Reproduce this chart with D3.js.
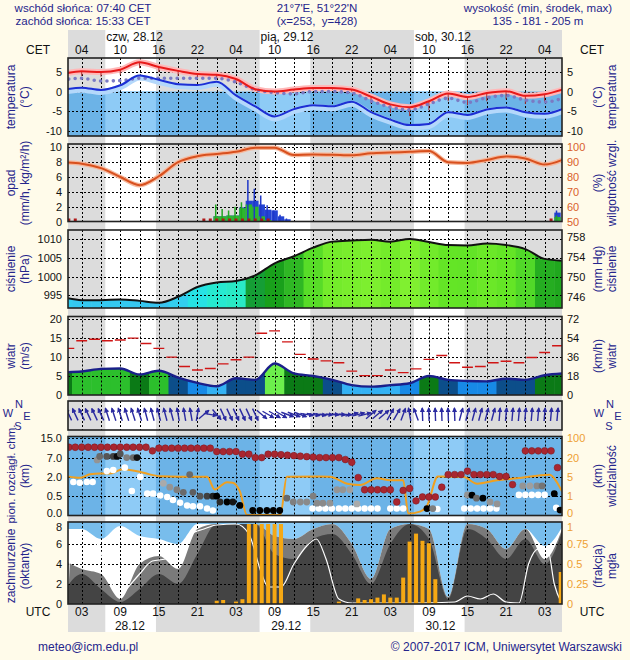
<!DOCTYPE html>
<html><head><meta charset="utf-8">
<script src="https://cdn.jsdelivr.net/npm/d3@7/dist/d3.min.js"></script>
<style>
html,body{margin:0;padding:0;background:#fffbea;}
svg{display:block;}
text{font-family:"Liberation Sans",Arial,Helvetica,sans-serif;}
</style></head><body>
<svg id="chart" width="630" height="660"></svg>
<script>
// ---------------- DATA ----------------
const sunriseUTC = [6.67, 30.67, 54.67];
const sunsetUTC  = [14.55, 38.55, 62.55];
const labelHours = [3,9,15,21,27,33,39,45,51,57,63,69,75];
const cetLabels  = ["04","10","16","22","04","10","16","22","04","10","16","22","04"];
const utcLabels  = ["03","09","15","21","03","09","15","21","03","09","15","21","03"];
const dayNamesTop = ["czw, 28.12","pią, 29.12","sob, 30.12"];
const datesBottom = ["28.12","29.12","30.12"];
const dateBottomHours = [10.5, 34.8, 58.8];

const hours3 = [0,3,6,9,12,15,18,21,24,27,30,33,36,39,42,45,48,51,54,57,60,63,66,69,72,75,78];
const temperature = [4.5,5.2,5.0,5.6,7.5,6.3,5.3,4.5,4.3,3.2,0.6,0.0,0.5,0.9,0.9,0.5,-1.3,-3.3,-4.0,-2.5,-0.5,-1.4,-0.4,0.1,-1.1,-0.7,0.6];
const tempLow     = [3.3,4.0,3.8,4.3,6.0,5.0,4.0,3.3,3.2,2.2,0.2,-0.3,0.2,0.5,0.5,0.0,-3.0,-5.5,-6.3,-4.8,-2.5,-3.5,-2.5,-2.0,-3.2,-2.8,-1.5];
const dewPoint    = [0.4,1.0,0.4,1.6,4.1,3.0,1.9,1.7,2.5,-1.0,-3.8,-6.4,-4.5,-3.5,-3.8,-2.6,-5.3,-7.2,-8.6,-8.3,-5.3,-6.0,-4.6,-4.1,-5.3,-5.7,-4.3];
const perceived   = [3.0,3.4,2.7,2.8,3.4,3.4,3.4,3.4,3.4,2.4,0.5,-0.3,-0.6,0.0,0.0,-0.4,-2.4,-4.0,-4.7,-3.2,-1.7,-2.8,-1.6,-1.0,-2.2,-2.7,-1.6];
const humidity    = [90,89,86,80,74.5,80.5,90,94,95.5,97,99.7,99.8,94.8,95.2,95,94.6,96,96.5,97,97.5,90,89.5,91.5,93.8,92.5,88.4,92];
const pressure    = [994.5,993.7,993.7,993.9,993.5,993.0,994.6,997.2,998.4,998.8,1000.3,1003.5,1005.4,1007.7,1009.3,1009.6,1009.8,1009.3,1010.0,1009.2,1008.4,1008.3,1008.8,1008.4,1007.3,1004.7,1004.2];
const windSpeed   = [6.0,6.2,6.9,7.0,5.4,6.4,4.6,3.2,2.3,4.4,4.0,8.3,5.7,5.0,4.0,2.6,2.2,2.6,3.1,5.0,4.0,3.7,3.6,4.3,4.0,5.2,5.7];

const gustHours = [1,3,5,7,9,11,13,15,17,19,21,23,25,27,29,31,33,35,37,39,41,43,45,47,49,51,53,55,57,59,61,63,65,67,69,71,73,75,77];
const gusts     = [12.3,14.3,14.7,14.3,14.5,15.0,13.6,12.3,10.0,7.5,6.6,7.0,8.2,9.3,10.0,16.3,16.9,14.0,10.7,9.5,9.0,8.5,6.3,5.1,5.1,6.6,5.9,6.9,9.4,10.4,8.5,7.3,7.5,8.5,8.9,8.5,9.9,11.2,13.0];

const precipHours = [24,25,26,27,28,29,30,31,32,33,34,35,77];
const rain        = [0.7,0.7,0.8,0.8,1.8,2.3,2.0,0.7,0.2,0,0,0,0.6];
const precipTotal = [0.7,0.7,0.8,0.8,1.9,2.8,2.8,2.3,1.6,1.5,0.7,0.3,1.2];
const rainMax     = [2.3,1.7,1.5,2.0,2.6,0,0,0,0,0,0,0,0.8];
const snowMax     = [0,0,0,0,0,5.6,4.4,3.5,2.2,1.5,0.9,0.4,1.5];
const precipFlagHours = [1,2,22,23,24,25,26,27,28,29,30,31,32,76];

const dirHours = [1,2,3,4,5,6,7,8,9,10,11,12,13,14,15,16,17,18,19,20,21,22,23,24,25,26,27,28,29,30,31,32,33,34,35,36,37,38,39,40,41,42,43,44,45,46,47,48,49,50,51,52,53,54,55,56,57,58,59,60,61,62,63,64,65,66,67,68,69,70,71,72,73,74,75,76,77];
const windFrom = [155,155,155,155,155,155,162,162,162,162,162,162,165,165,165,165,165,170,170,170,190,230,280,320,335,335,335,335,335,335,310,300,300,300,290,290,290,280,280,280,272,272,272,272,255,255,255,230,230,230,210,210,200,170,160,178,178,178,178,178,178,195,195,195,195,195,195,185,185,185,185,185,185,185,185,185,185];

const visHours   = [0.9,2.7,4.3,5.8,7.4,9.4,12,13.2,15.2,18.3,22.5,23.7,25.6,26.5,27.6,28.7,33.9,34.9,40.1,41.6,44.3,46.3,48.9,51,53,53.8,55.6,56.7,58.4,62.3,64.5,67.6,70.7,75.8,76.9,77.7];
const visibility = [5.4,4.8,7.0,7.6,7.6,11,9.0,7.4,5.5,5.2,5.2,2.4,3.9,3.8,2.0,0.03,0.03,5.2,5.3,5.2,3.6,3.3,4.7,4.3,4.3,0.1,0.2,0.5,5.4,5.1,3.6,4.3,4.7,6.6,3.9,2.0];

const topHours = [1,2,3,4,5,6,7,8,9,10,11,12,13,14,15,16,17,18,19,20,21,22,23,24,25,26,27,28,29,30,31,32,33,34,35,36,37,38,39,40,41,42,43,44,45,46,47,48,49,50,51,52,53,54,55,56,57,58,59,60,61,62,63,64,65,66,67,68,69,70,72,73,74,75,76,77];
const cloudTop = [11.3,11.3,11.3,11.3,11.3,11.3,11.3,11.3,11.3,11.3,11.3,11.3,11.3,9.8,10.9,10.9,10.9,10.9,10.9,10.9,10.9,10.9,10.9,9.5,9.5,9.5,9.5,8.4,8.4,7.0,7.0,8.4,8.4,8.2,8.0,7.8,7.6,7.4,7.2,7.0,7.0,7.0,7.0,6.5,5.8,1.95,1.0,1.0,1.0,1.0,1.0,0.35,0.95,1.1,0.38,0.48,0.48,0.48,1.2,2.6,2.6,2.6,3.5,2.6,2.6,2.6,2.6,2.1,2.1,1.4,9.8,9.8,9.8,9.8,9.8,4.4];

const grayHours = [5.4,5.8,6.9,7.9,8.5,9,10,11,11.6,15.7,16.7,17.8,18.8,19.8,20.3,21.4,22.5,23.4,24,24.5,25.6,26.5,27.6,29.6,30.7,31.8,32.8,33.8,34.9,35.9,37,38,39,39.6,40.5,41.6,42.7,43.6,44.7,45.8,56.7,57.6,63,63.7,64.4,65.4,66.5,67.6,71.6,72.7,73.8,74.6,76.5,77.4];
const grayBase  = [6.4,7.5,7.5,7.5,7.5,8.5,7.0,7.0,7.0,1.5,1.2,1.0,0.8,2.6,0.8,0.5,0.5,0.5,0.5,0.35,0.35,0.35,0.26,0.13,0.13,0.13,0.13,0.13,0.45,0.35,0.35,0.35,0.5,0.32,0.32,0.32,1.0,1.0,1.0,0.3,0.18,0.18,0.6,0.58,0.45,0.45,0.35,0.3,1.3,1.3,1.3,1.3,0.7,0.14];
const grayCover = [0.3,0.5,0.6,0.7,0.95,0.6,0.4,0.5,0.9,0.2,0.3,0.4,0.5,0.5,0.55,0.6,0.7,0.85,1.0,0.8,1.0,0.9,1.0,1.0,1.0,1.0,1.0,1.0,0.5,0.4,0.35,0.35,0.4,0.35,0.35,0.3,0.3,0.3,0.25,0.2,1.0,0.4,0.3,1.0,0.5,1.0,0.3,0.3,0.3,0.25,0.35,0.45,1.0,1.0];

const whiteHours = [1.7,2.7,3.8,4.7,6.9,7.9,9.7,10.8,12.1,13.2,14.1,15.2,16.3,17.2,18.3,19.4,20.3,21.4,22.5,23.4,38.9,39.9,40.9,41.9,43,44,45,46,47,48,49,51,52,53,58.3,62.5,63.5,64.5,65.5,66.5,67.5,71,72,73,74,75,76.8];
const whiteBase  = [1.6,1.55,1.6,1.6,3.5,3.8,4.4,0.9,2.0,0.7,0.7,0.55,0.48,0.4,0.33,0.26,0.24,0.24,0.18,0.13,0.18,0.18,0.18,0.18,0.18,0.18,0.18,0.18,0.18,0.18,0.18,0.18,0.18,0.18,0.17,0.18,0.18,0.18,0.18,0.18,0.18,0.6,0.6,0.6,0.6,0.6,0.2];

const cloudHigh = [7.5,7.5,6.5,7.8,6.8,6.5,6.0,8,8,8,8,6.8,6.5,7.5,8,6,2.5,7.5,8,7.5,0.7,8,7.5,5.5,7.5,5.8,8];
const cloudMid  = [4.5,3.5,3.0,0.5,4.0,4.8,3.5,7.5,8,8,8,6.8,6.5,7.5,8,6,2.5,7.5,8,7.5,0.7,8,7.5,5.5,7.5,4.5,8];
const cloudLow  = [1.0,3.0,1.5,0.2,1.5,3.0,2.0,5.0,8,8,8,5.0,4.5,6.5,7.0,5.0,2.0,6.0,8,6.5,0.5,7.5,6.5,4.5,6.5,4.0,7.8];

const lineHours = [0.9,1.5,3,5,7,9,10,12,14,16,18,20,22,24,27,29,31,32,34,36,38,39.5,41,43,45,50,55,61,63,65,67,69,71,72.5,74,75.5,76.5,77.7];
const cloudLine = [2.0,7.2,7.0,6.4,3.5,0.8,1.5,3.0,4.3,4.5,5.5,7.0,7.5,7.9,8.0,7.0,3.0,1.7,1.7,4.0,5.8,6.5,4.5,0.5,0.1,0.1,0.1,0.2,0.8,0.5,1.0,0.2,0.1,4.0,5.5,5.4,2.0,0.0];

const fogHours = [24,25,27,28,29,30,31,32,33,34,43,46,47,48,49,50,51,52,53,54,55,56,57,58,77.5];
const fog      = [0.04,0.05,0.03,0.06,1,1,1,1,1,1,0.03,0.07,0.05,0.06,0.08,0.12,0.08,0.08,0.33,0.78,0.88,0.79,0.76,0.31,0.4];

// ---------------- LAYOUT ----------------
const W = 630, H = 660, X0 = 68, X1 = 562;
const NAVY = "#25258c", NIGHT = "#dcdcdc", DAY = "#ffffff";
const BLUE_N = "#6cb3e7", BLUE_D = "#8ecbf6";
const ORANGE = "#eea032", HUMC = "#d9602a";
const x = d3.scaleLinear().domain([0.87, 77.7]).range([X0, X1]);
const gridHours = d3.range(3, 76, 3);
const svg = d3.select("#chart");
svg.append("rect").attr("width", W).attr("height", H).attr("fill", "#fffbea");
const defs = svg.append("defs");

function bands(g, y0, y1, cn, cd) {
  g.append("rect").attr("x", X0).attr("y", y0).attr("width", X1 - X0).attr("height", y1 - y0).attr("fill", cn);
  g.selectAll(null).data(sunriseUTC).enter().append("rect")
    .attr("x", d => Math.max(X0, x(d))).attr("y", y0)
    .attr("width", (d, i) => Math.min(X1, x(sunsetUTC[i])) - Math.max(X0, x(d)))
    .attr("height", y1 - y0).attr("fill", cd);
}
function panel(id, y0, y1) {
  defs.append("clipPath").attr("id", "clip-" + id).append("rect")
    .attr("x", X0).attr("y", y0).attr("width", X1 - X0).attr("height", y1 - y0);
  return svg.append("g").attr("clip-path", `url(#clip-${id})`);
}
function frame(y0, y1) {
  svg.append("rect").attr("x", X0).attr("y", y0).attr("width", X1 - X0).attr("height", y1 - y0)
    .attr("fill", "none").attr("stroke", "#222").attr("stroke-width", 1.6);
}
function grid(g, y0, y1, ys) {
  g.selectAll(null).data(gridHours).enter().append("line")
    .attr("x1", d => Math.round(x(d)) + 0.5).attr("x2", d => Math.round(x(d)) + 0.5)
    .attr("y1", y0).attr("y2", y1).attr("stroke", "#000").attr("stroke-width", 1).attr("stroke-dasharray", "2,2");
  g.selectAll(null).data(ys).enter().append("line")
    .attr("x1", X0).attr("x2", X1).attr("y1", d => Math.round(d) + 0.5).attr("y2", d => Math.round(d) + 0.5)
    .attr("stroke", "#000").attr("stroke-width", 1).attr("stroke-dasharray", "2,2");
}
function axis(side, scale, vals, fmt, color, nudge) {
  const ax = (side === "left" ? d3.axisLeft(scale) : d3.axisRight(scale))
    .tickValues(vals).tickSize(0).tickPadding(side === "left" ? 6 : 5).tickFormat(fmt || (d => String(d)));
  const g = svg.append("g").attr("transform", `translate(${side === "left" ? X0 : X1},0)`).call(ax);
  g.select(".domain").remove();
  g.selectAll("text").attr("font-size", 11).attr("fill", color || "#111")
    .attr("font-family", '"Liberation Sans",Arial,sans-serif');
  if (nudge) g.selectAll(".tick text").attr("transform", d => `translate(0,${nudge(d)})`);
  return g;
}
function vtitle(xc, yc, txt, color, size) {
  svg.append("text").attr("transform", `translate(${xc},${yc}) rotate(-90)`)
    .attr("text-anchor", "middle").attr("dominant-baseline", "central")
    .attr("font-size", size || 12).attr("fill", color || NAVY).text(txt);
}
function txt(xp, yp, s, anchor, size, color) {
  return svg.append("text").attr("x", xp).attr("y", yp).attr("text-anchor", anchor || "start")
    .attr("font-size", size || 12).attr("fill", color || NAVY).style("white-space", "pre").text(s);
}
function stripEdges(hs) {
  return hs.map((h, i) => [i === 0 ? h - 1.5 : (hs[i - 1] + h) / 2, i === hs.length - 1 ? h + 1.5 : (h + hs[i + 1]) / 2]);
}

// ---------- header & bands ----------
bands(svg.append("g"), 30, 632, NIGHT, DAY);
txt(83, 11.5, "wschód słońca: 07:40 CET", "middle", 11.5);
txt(83, 25, "zachód słońca: 15:33 CET", "middle", 11.5);
txt(317, 11.5, "21°7'E, 51°22'N", "middle", 11.5);
txt(317, 25, "(x=253,  y=428)", "middle", 11.5);
txt(538, 11.5, "wysokość (min, środek, max)", "middle", 11.5);
txt(538, 25, "135 - 181 - 205 m", "middle", 11.5);
sunriseUTC.forEach((s, i) => txt(x(s) + 1, 41, dayNamesTop[i], "start", 12, "#111"));
labelHours.forEach((h, i) => txt(x(h), 53.5, cetLabels[i], "middle", 12, "#111"));
txt(38, 53.5, "CET", "middle", 12, "#111");
txt(592, 53.5, "CET", "middle", 12, "#111");
labelHours.forEach((h, i) => txt(x(h), 616, utcLabels[i], "middle", 12, "#111"));
dateBottomHours.forEach((h, i) => txt(x(h), 630, datesBottom[i], "middle", 12, "#111"));
txt(38, 616, "UTC", "middle", 12, "#111");
txt(592, 616, "UTC", "middle", 12, "#111");
txt(38, 651, "meteo@icm.edu.pl", "start", 12);
txt(622, 651, "© 2007-2017 ICM, Uniwersytet Warszawski", "end", 12);

// ---------- 1. temperature ----------
{
  const y0 = 58, y1 = 136;
  const y = d3.scaleLinear().domain([-11.4, 8.6]).range([y1, y0]);
  const g = panel("t", y0, y1);
  bands(g, y0, y1, NIGHT, DAY);
  bands(g, y(0), y1, BLUE_N, BLUE_D);
  grid(g, y0, y1, [5, 0, -5, -10].map(y));
  const line = d3.line().x((d, i) => x(hours3[i])).y(d => y(d)).curve(d3.curveMonotoneX);
  g.append("path").attr("d", line(dewPoint)).attr("fill", "none").attr("stroke", "#b4d8fb").attr("stroke-width", 6).attr("transform", "translate(0,2)");
  g.append("path").attr("d", line(temperature)).attr("fill", "none").attr("stroke", "#ffb8b8").attr("stroke-width", 6);
  g.selectAll(null).data(hours3).enter().append("line")
    .attr("x1", h => x(h)).attr("x2", h => x(h))
    .attr("y1", (h, i) => y(temperature[i])).attr("y2", (h, i) => y(tempLow[i]))
    .attr("stroke", "#a83030").attr("stroke-width", 1);
  g.append("path").attr("d", line(perceived)).attr("fill", "none").attr("stroke", "#7a7ac4")
    .attr("stroke-width", 3.6).attr("stroke-linecap", "round").attr("stroke-dasharray", "0,6.4");
  g.append("path").attr("d", line(dewPoint)).attr("fill", "none").attr("stroke", "#1d2fd4").attr("stroke-width", 2);
  g.append("path").attr("d", line(temperature)).attr("fill", "none").attr("stroke", "#e81a1a").attr("stroke-width", 2);
  frame(y0, y1);
  axis("left", y, [5, 0, -5, -10]);
  axis("right", y, [5, 0, -5, -10]);
  vtitle(11, 97, "temperatura"); vtitle(25, 97, "(°C)");
  vtitle(598, 97, "(°C)"); vtitle(612, 97, "temperatura");
}

// ---------- 2. precipitation / humidity ----------
{
  const y0 = 144, y1 = 221.5;
  const y = d3.scaleLinear().domain([0, 10.45]).range([y1, y0]);
  const yh = d3.scaleLinear().domain([50, 102.25]).range([y1, y0]);
  const g = panel("p", y0, y1);
  bands(g, y0, y1, NIGHT, DAY);
  grid(g, y0, y1, [2, 4, 6, 8, 10].map(y));
  const line = d3.line().x((d, i) => x(hours3[i])).y(d => yh(d)).curve(d3.curveMonotoneX);
  g.append("path").attr("d", line(humidity)).attr("fill", "none").attr("stroke", "#f6b89c").attr("stroke-width", 4.5);
  g.append("path").attr("d", line(humidity)).attr("fill", "none").attr("stroke", "#d8501e").attr("stroke-width", 2);
  const bw = x(1) - x(0);
  g.selectAll(null).data(precipHours).enter().append("rect")
    .attr("x", h => x(h - 0.5)).attr("width", bw).attr("y", (h, i) => y(precipTotal[i])).attr("height", (h, i) => y1 - y(precipTotal[i]))
    .attr("fill", "#2444d4");
  g.selectAll(null).data(precipHours).enter().append("rect")
    .attr("x", h => x(h - 0.5)).attr("width", bw).attr("y", (h, i) => y(rain[i])).attr("height", (h, i) => y1 - y(rain[i]))
    .attr("fill", "#2db82d");
  g.selectAll(null).data(precipHours).enter().append("line")
    .attr("x1", h => x(h) - 1).attr("x2", h => x(h) - 1).attr("y1", y1).attr("y2", (h, i) => y(snowMax[i]))
    .attr("stroke", "#2038c8").attr("stroke-width", 1.5);
  g.selectAll(null).data(precipHours).enter().append("line")
    .attr("x1", h => x(h) - 1).attr("x2", h => x(h) - 1).attr("y1", y1).attr("y2", (h, i) => y(rainMax[i]))
    .attr("stroke", "#22a822").attr("stroke-width", 1.5);
  g.selectAll(null).data(precipFlagHours).enter().append("rect")
    .attr("x", h => x(h) - 1.5).attr("y", y1 - 3).attr("width", 3).attr("height", 3).attr("fill", "#b01818");
  frame(y0, y1);
  axis("left", y, [0, 2, 4, 6, 8, 10]);
  axis("right", yh, [50, 60, 70, 80, 90, 100], null, HUMC);
  vtitle(11, 183, "opad"); vtitle(25, 183, "(mm/h, kg/m²/h)");
  vtitle(598, 183, "(%)"); vtitle(612, 183, "wilgotność wzgl.");
}

// ---------- 3. pressure ----------
{
  const y0 = 230, y1 = 308;
  const y = d3.scaleLinear().domain([991.6, 1012.4]).range([y1, y0]);
  const ymm = d3.scaleLinear().domain([991.6 * 0.750062, 1012.4 * 0.750062]).range([y1, y0]);
  const g = panel("pr", y0, y1);
  bands(g, y0, y1, NIGHT, DAY);
  const color = d3.scaleLinear()
    .domain([993, 996, 998, 999.5, 1000.5, 1003, 1005, 1007, 1008.5, 1010])
    .range(["#38c4f0", "#2cd6f0", "#24eadc", "#30e8b0", "#0e8c16", "#149a18", "#28b022", "#4cd42a", "#66e626", "#80f030"]);
  const area = d3.area().x((d, i) => x(hours3[i])).y0(y1).y1(d => y(d)).curve(d3.curveMonotoneX);
  defs.append("clipPath").attr("id", "presfill").append("path").attr("d", area(pressure));
  const edges = stripEdges(hours3);
  g.append("g").attr("clip-path", "url(#presfill)").selectAll("rect").data(pressure).enter().append("rect")
    .attr("x", (d, i) => x(edges[i][0])).attr("width", (d, i) => x(edges[i][1]) - x(edges[i][0]) + 0.5)
    .attr("y", y0).attr("height", y1 - y0).attr("fill", d => color(d));
  grid(g, y0, y1, [995, 1000, 1005, 1010].map(y));
  const line = d3.line().x((d, i) => x(hours3[i])).y(d => y(d)).curve(d3.curveMonotoneX);
  g.append("path").attr("d", line(pressure)).attr("fill", "none").attr("stroke", "#111").attr("stroke-width", 2);
  frame(y0, y1);
  axis("left", y, [995, 1000, 1005, 1010]);
  axis("right", ymm, [746, 750, 754, 758]);
  vtitle(11, 269, "ciśnienie"); vtitle(25, 269, "(hPa)");
  vtitle(598, 269, "(mm Hg)"); vtitle(612, 269, "ciśnienie");
}

// ---------- 4. wind ----------
{
  const y0 = 316.5, y1 = 395;
  const y = d3.scaleLinear().domain([0, 20.7]).range([y1, y0]);
  const ykm = d3.scaleLinear().domain([0, 20.7 * 3.6]).range([y1, y0]);
  const g = panel("w", y0, y1);
  bands(g, y0, y1, NIGHT, DAY);
  const color = d3.scaleThreshold().domain([2.7, 3.9, 5.0, 6.15, 7.5])
    .range(["#34b2f4", "#1789e6", "#0c4e8a", "#0b7a16", "#2cbf2c", "#6cef4c"]);
  const area = d3.area().x((d, i) => x(hours3[i])).y0(y1).y1(d => y(d)).curve(d3.curveMonotoneX);
  defs.append("clipPath").attr("id", "windfill").append("path").attr("d", area(windSpeed));
  const edges = stripEdges(hours3);
  g.append("g").attr("clip-path", "url(#windfill)").selectAll("rect").data(windSpeed).enter().append("rect")
    .attr("x", (d, i) => x(edges[i][0])).attr("width", (d, i) => x(edges[i][1]) - x(edges[i][0]) + 0.5)
    .attr("y", y0).attr("height", y1 - y0).attr("fill", d => color(d));
  grid(g, y0, y1, [5, 10, 15, 20].map(y));
  g.selectAll(null).data(gustHours).enter().append("line")
    .attr("x1", h => x(h - 1) + 1).attr("x2", h => x(h + 1) - 1)
    .attr("y1", (h, i) => y(gusts[i])).attr("y2", (h, i) => y(gusts[i]))
    .attr("stroke", "#d01515").attr("stroke-width", 1.4);
  const line = d3.line().x((d, i) => x(hours3[i])).y(d => y(d)).curve(d3.curveMonotoneX);
  g.append("path").attr("d", line(windSpeed)).attr("fill", "none").attr("stroke", "#1a1f8a").attr("stroke-width", 2.4);
  frame(y0, y1);
  axis("left", y, [0, 5, 10, 15, 20]);
  axis("right", ykm, [0, 18, 36, 54, 72]);
  vtitle(11, 356, "wiatr"); vtitle(25, 356, "(m/s)");
  vtitle(598, 356, "(km/h)"); vtitle(612, 356, "wiatr");
}

// ---------- 5. wind direction ----------
{
  const y0 = 401, y1 = 430, yc = 414.5, L = 13;
  const g = panel("d", y0, y1);
  bands(g, y0, y1, NIGHT, DAY);
  grid(g, y0, y1, []);
  defs.append("marker").attr("id", "ah").attr("viewBox", "0 0 10 10").attr("refX", 8).attr("refY", 5)
    .attr("markerWidth", 3.6).attr("markerHeight", 3.6).attr("orient", "auto")
    .append("path").attr("d", "M0,0L10,5L0,10z").attr("fill", "#2a2aa0");
  g.selectAll(null).data(dirHours).enter().append("line")
    .each(function (h, i) {
      const a = (windFrom[i] + 180) * Math.PI / 180;
      const dx = Math.sin(a) * L / 2, dy = -Math.cos(a) * L / 2, cx = x(h);
      d3.select(this).attr("x1", cx - dx).attr("y1", yc - dy).attr("x2", cx + dx).attr("y2", yc + dy);
    })
    .attr("stroke", "#2a2aa0").attr("stroke-width", 1.4).attr("marker-end", "url(#ah)");
  frame(y0, y1);
  [0, 591].forEach(bx => {
    txt(bx + 19, 408, "N", "middle", 11); txt(bx + 8, 417, "W", "middle", 11);
    txt(bx + 27, 420, "E", "middle", 11); txt(bx + 18, 430, "S", "middle", 11);
  });
}

// ---------- 6. cloud base / visibility ----------
{
  const y0 = 436.5, y1 = 515.5;
  const y = d3.scaleLinear().domain([0, 0.5, 2, 7, 15]).range([515.5, 496.2, 476.9, 457.6, 438.3]);
  const yv = d3.scaleLinear().domain([0, 1, 5, 20, 100]).range([515.5, 496.2, 476.9, 457.6, 438.3]);
  const g = panel("b", y0, y1);
  bands(g, y0, y1, BLUE_N, BLUE_D);
  grid(g, y0, y1, [0.5, 2, 7, 15].map(y));
  const line = d3.line().x((d, i) => x(visHours[i])).y(d => yv(d)).curve(d3.curveMonotoneX);
  g.append("path").attr("d", line(visibility)).attr("fill", "none").attr("stroke", "#f0a020").attr("stroke-width", 2);
  g.selectAll(null).data(whiteHours).enter().append("circle")
    .attr("cx", h => x(h)).attr("cy", (h, i) => y(whiteBase[i])).attr("r", 3.3).attr("fill", "#ffffff");
  const shade = d3.interpolateRgb("#d4d4d4", "#000000");
  g.selectAll(null).data(grayHours).enter().append("circle")
    .attr("cx", h => x(h)).attr("cy", (h, i) => y(grayBase[i])).attr("r", 3.4).attr("fill", (h, i) => shade(grayCover[i]));
  g.selectAll(null).data(topHours).enter().append("circle")
    .attr("cx", h => x(h)).attr("cy", (h, i) => y(cloudTop[i])).attr("r", 3.4).attr("fill", "#a82630").attr("stroke", "#7a1a20").attr("stroke-width", 0.5);
  frame(y0, y1);
  axis("left", y, [0, 0.5, 2, 7, 15], d3.format(".1f"), null, d => d === 0 ? -2.5 : 0);
  axis("right", yv, [0, 1, 5, 20, 100], null, ORANGE, d => d === 0 ? -2.5 : 0);
  vtitle(11, 474, "pion. rozciągł. chm.", NAVY, 11.5); vtitle(25, 476, "(km)");
  vtitle(598, 476, "(km)"); vtitle(612, 476, "widzialność");
}

// ---------- 7. cloud cover / fog ----------
{
  const y0 = 522, y1 = 604;
  const y = d3.scaleLinear().domain([0, 8]).range([y1, 524]);
  const yf = d3.scaleLinear().domain([0, 1]).range([y1, 524]);
  const g = panel("c", y0, y1);
  bands(g, y0, y1, "#78bdec", "#8ccbf6");
  const area = d3.area().x((d, i) => x(hours3[i])).y0(y1).y1(d => y(d)).curve(d3.curveMonotoneX);
  g.append("path").attr("d", area(cloudHigh)).attr("fill", "#ffffff");
  g.append("path").attr("d", area(cloudMid)).attr("fill", "#7a7a7a");
  g.append("path").attr("d", area(cloudLow)).attr("fill", "#444444");
  grid(g, y0, y1, [2, 4, 6].map(y));
  const line = d3.line().x((d, i) => x(lineHours[i])).y(d => y(d)).curve(d3.curveMonotoneX);
  g.append("path").attr("d", line(cloudLine)).attr("fill", "none").attr("stroke", "#ffffff").attr("stroke-width", 1.2);
  g.selectAll(null).data(fogHours).enter().append("rect")
    .attr("x", h => x(h) - 2).attr("width", 4).attr("y", (h, i) => yf(fog[i])).attr("height", (h, i) => y1 - yf(fog[i]))
    .attr("fill", "#f5a814");
  frame(y0, y1);
  axis("left", y, [0, 2, 4, 6, 8], null, null, d => d === 8 ? 3 : 0);
  axis("right", yf, [0, 0.25, 0.5, 0.75, 1], null, ORANGE, d => d === 1 ? 3 : 0);
  vtitle(11, 566, "zachmurzenie"); vtitle(25, 566, "(oktanty)");
  vtitle(598, 566, "(frakcja)"); vtitle(612, 566, "mgła");
}
</script>
</body></html>
